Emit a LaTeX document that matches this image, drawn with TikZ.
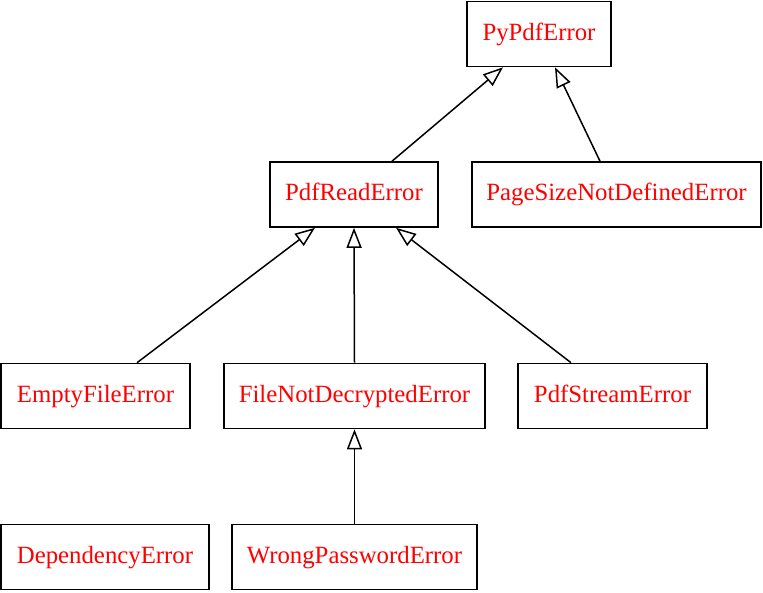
\documentclass[tikz,border=0pt]{standalone}
\usepackage{fontspec}
\setmainfont{Liberation Serif}
\usetikzlibrary{arrows.meta}
\begin{document}
\begin{tikzpicture}[x=1pt,y=-1pt,
  cls/.style={draw, line width=1.6pt, inner sep=0pt, text=red,
    font=\fontsize{24.8}{28}\selectfont, minimum height=65pt,
    text height=17pt, text depth=5pt},
  inh/.style={line width=1.5pt, -{Triangle[open, length=20pt, width=15pt]}}]
\useasboundingbox (0,0) rectangle (763,592);
\node[cls, minimum width=144pt] (pypdf) at (539,34) {PyPdfError};
\node[cls, minimum width=168pt] (read) at (354,194.5) {PdfReadError};
\node[cls, minimum width=289pt] (page) at (616.5,194.5) {PageSizeNotDefinedError};
\node[cls, minimum width=189pt] (empty) at (95.5,396) {EmptyFileError};
\node[cls, minimum width=261pt] (decr) at (354.5,396) {FileNotDecryptedError};
\node[cls, minimum width=189pt] (stream) at (612.5,396) {PdfStreamError};
\node[cls, minimum width=208pt] (dep) at (105,557) {DependencyError};
\node[cls, minimum width=245pt] (wrong) at (354.5,557) {WrongPasswordError};
\draw[inh] ([xshift=38pt]read.north) -- ([xshift=-36pt]pypdf.south);
\draw[inh] ([xshift=-16.5pt]page.north) -- ([xshift=16pt]pypdf.south);
\draw[inh] ([xshift=41.5pt]empty.north) -- ([xshift=-39pt]read.south);
\draw[inh] (decr.north) -- (read.south);
\draw[inh] ([xshift=-41.5pt]stream.north) -- ([xshift=42pt]read.south);
\draw[inh] (wrong.north) -- (decr.south);
\end{tikzpicture}
\end{document}
